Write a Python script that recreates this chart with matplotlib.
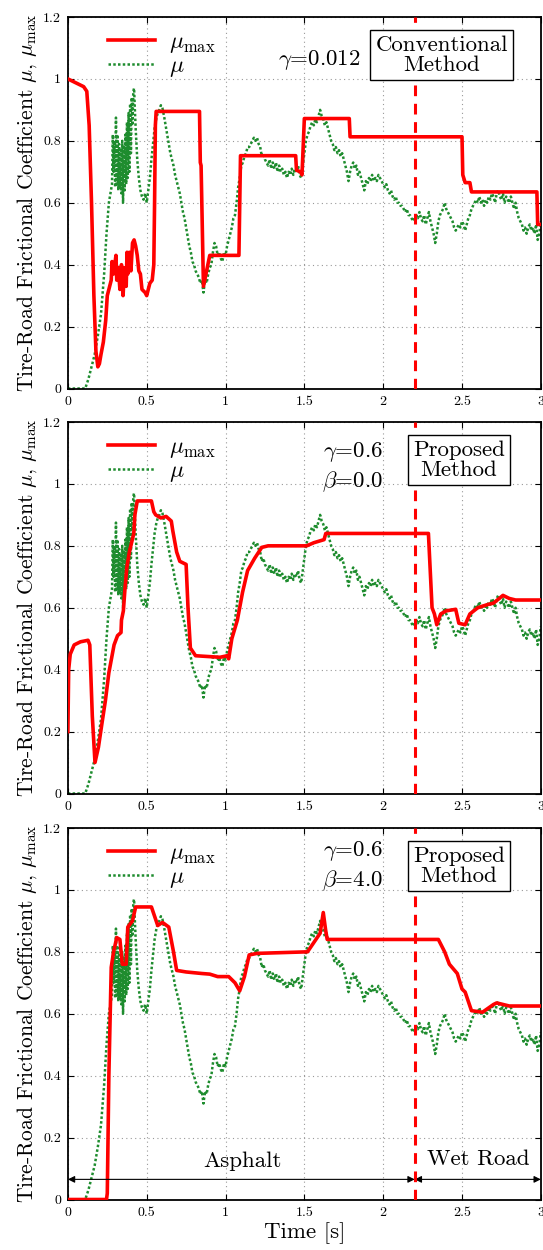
import matplotlib
matplotlib.use("Agg")
import matplotlib.pyplot as plt
from matplotlib.ticker import FuncFormatter

plt.rcParams["font.family"] = "serif"
plt.rcParams["font.serif"] = ["cmr10"]
plt.rcParams["mathtext.fontset"] = "cm"
plt.rcParams["axes.formatter.use_mathtext"] = True

# measured friction coefficient mu (same in all three panels)
mu_t = [0.00, 0.11, 0.13, 0.15, 0.17, 0.19, 0.21, 0.23, 0.245, 0.26, 0.27, 0.28,
        0.285, 0.29, 0.295, 0.30, 0.305, 0.31, 0.315, 0.32, 0.325, 0.33, 0.335, 0.34,
        0.345, 0.35, 0.355, 0.36, 0.365, 0.37, 0.375, 0.38, 0.385, 0.39, 0.395, 0.40,
        0.405, 0.41, 0.415, 0.42, 0.425, 0.43, 0.44, 0.45, 0.46, 0.47, 0.48, 0.49,
        0.50, 0.51, 0.52, 0.53, 0.54, 0.55, 0.56, 0.57, 0.58, 0.59, 0.60, 0.61,
        0.62, 0.63, 0.64, 0.65, 0.66, 0.67, 0.68, 0.69, 0.70, 0.71, 0.72, 0.73,
        0.74, 0.75, 0.76, 0.77, 0.78, 0.79, 0.80, 0.81, 0.82, 0.83, 0.84, 0.85,
        0.86, 0.87, 0.88, 0.89, 0.90, 0.91, 0.92, 0.93, 0.94, 0.95, 0.96, 0.97,
        0.98, 0.99, 1.00, 1.01, 1.02, 1.03, 1.04, 1.05, 1.06, 1.07, 1.08, 1.09,
        1.10, 1.11, 1.12, 1.13, 1.14, 1.15, 1.16, 1.17, 1.18, 1.19, 1.20, 1.21,
        1.22, 1.23, 1.24, 1.25, 1.26, 1.27, 1.28, 1.29, 1.30, 1.31, 1.32, 1.33,
        1.34, 1.35, 1.36, 1.37, 1.38, 1.39, 1.40, 1.41, 1.42, 1.43, 1.44, 1.45,
        1.46, 1.47, 1.48, 1.49, 1.50, 1.51, 1.52, 1.53, 1.54, 1.55, 1.56, 1.57,
        1.58, 1.59, 1.60, 1.61, 1.62, 1.63, 1.64, 1.65, 1.66, 1.67, 1.68, 1.69,
        1.70, 1.71, 1.72, 1.73, 1.74, 1.75, 1.76, 1.77, 1.78, 1.79, 1.80, 1.81,
        1.82, 1.83, 1.84, 1.85, 1.86, 1.87, 1.88, 1.89, 1.90, 1.91, 1.92, 1.93,
        1.94, 1.95, 1.96, 1.97, 1.98, 1.99, 2.00, 2.01, 2.02, 2.03, 2.04, 2.05,
        2.06, 2.07, 2.08, 2.09, 2.10, 2.11, 2.12, 2.13, 2.14, 2.15, 2.16, 2.17,
        2.18, 2.19, 2.20, 2.21, 2.22, 2.23, 2.24, 2.25, 2.26, 2.27, 2.28, 2.29,
        2.30, 2.31, 2.32, 2.33, 2.34, 2.35, 2.36, 2.37, 2.38, 2.39, 2.40, 2.41,
        2.42, 2.43, 2.44, 2.45, 2.46, 2.47, 2.48, 2.49, 2.50, 2.51, 2.52, 2.53,
        2.54, 2.55, 2.56, 2.57, 2.58, 2.59, 2.60, 2.61, 2.62, 2.63, 2.64, 2.65,
        2.66, 2.67, 2.68, 2.69, 2.70, 2.71, 2.72, 2.73, 2.74, 2.75, 2.76, 2.77,
        2.78, 2.79, 2.80, 2.81, 2.82, 2.83, 2.84, 2.85, 2.86, 2.87, 2.88, 2.89,
        2.90, 2.91, 2.92, 2.93, 2.94, 2.95, 2.96, 2.97, 2.98, 2.99, 3.00]
mu_v = [0.0, 0.0, 0.03, 0.07, 0.11, 0.17, 0.24, 0.37, 0.5, 0.6, 0.63, 0.66,
        0.82, 0.7, 0.8, 0.65, 0.875, 0.66, 0.82, 0.64, 0.79, 0.65, 0.77, 0.63,
        0.8, 0.6, 0.78, 0.64, 0.82, 0.66, 0.86, 0.68, 0.89, 0.7, 0.92, 0.76,
        0.94, 0.85, 0.96, 0.97, 0.9, 0.84, 0.74, 0.68, 0.64, 0.62, 0.61, 0.63,
        0.6, 0.64, 0.68, 0.74, 0.79, 0.84, 0.87, 0.89, 0.9, 0.915, 0.905, 0.88,
        0.85, 0.82, 0.79, 0.76, 0.74, 0.72, 0.69, 0.67, 0.65, 0.63, 0.6, 0.57,
        0.55, 0.52, 0.49, 0.46, 0.44, 0.41, 0.4, 0.38, 0.37, 0.36, 0.34, 0.35,
        0.31, 0.35, 0.34, 0.37, 0.39, 0.4, 0.44, 0.47, 0.46, 0.43, 0.44, 0.42,
        0.41, 0.44, 0.43, 0.46, 0.48, 0.5, 0.52, 0.55, 0.56, 0.6, 0.65, 0.68,
        0.72, 0.73, 0.75, 0.76, 0.78, 0.78, 0.79, 0.8, 0.81, 0.8, 0.81, 0.79,
        0.78, 0.75, 0.76, 0.74, 0.73, 0.72, 0.74, 0.71, 0.73, 0.71, 0.73, 0.7,
        0.72, 0.7, 0.71, 0.69, 0.7, 0.68, 0.7, 0.69, 0.71, 0.69, 0.71, 0.7,
        0.72, 0.69, 0.68, 0.72, 0.76, 0.8, 0.82, 0.83, 0.85, 0.86, 0.85, 0.87,
        0.86, 0.88, 0.9, 0.88, 0.87, 0.85, 0.86, 0.84, 0.82, 0.8, 0.79, 0.77,
        0.78, 0.76, 0.77, 0.75, 0.76, 0.74, 0.72, 0.7, 0.67, 0.7, 0.72, 0.73,
        0.71, 0.72, 0.69, 0.7, 0.68, 0.66, 0.64, 0.67, 0.66, 0.68, 0.67, 0.69,
        0.67, 0.68, 0.67, 0.69, 0.68, 0.67, 0.66, 0.65, 0.66, 0.64, 0.63, 0.64,
        0.62, 0.61, 0.62, 0.6, 0.6, 0.59, 0.59, 0.58, 0.57, 0.58, 0.56, 0.56,
        0.55, 0.54, 0.55, 0.56, 0.55, 0.57, 0.55, 0.54, 0.56, 0.53, 0.55, 0.57,
        0.54, 0.52, 0.5, 0.47, 0.5, 0.54, 0.56, 0.57, 0.58, 0.6, 0.58, 0.57,
        0.56, 0.55, 0.54, 0.52, 0.51, 0.52, 0.53, 0.52, 0.54, 0.53, 0.51, 0.53,
        0.55, 0.56, 0.58, 0.59, 0.6, 0.61, 0.6, 0.62, 0.6, 0.61, 0.59, 0.61,
        0.6, 0.62, 0.61, 0.63, 0.62, 0.6, 0.63, 0.64, 0.62, 0.61, 0.63, 0.6,
        0.62, 0.61, 0.6, 0.62, 0.6, 0.58, 0.6, 0.57, 0.55, 0.54, 0.53, 0.51,
        0.52, 0.5, 0.52, 0.53, 0.51, 0.52, 0.5, 0.53, 0.48, 0.5, 0.54]

# estimated mu_max, conventional method (gamma=0.012)
conv_t = [0.0, 0.10, 0.12, 0.135, 0.15, 0.165, 0.178, 0.19, 0.20, 0.21, 0.225, 0.24,
          0.25, 0.265, 0.275, 0.28, 0.29, 0.30, 0.305, 0.31, 0.32, 0.33, 0.34, 0.35,
          0.36, 0.37, 0.375, 0.38, 0.39, 0.40, 0.41, 0.42, 0.43, 0.44, 0.45, 0.46,
          0.47, 0.49, 0.50, 0.51, 0.52, 0.535, 0.545, 0.55, 0.555, 0.56, 0.835, 0.84,
          0.845, 0.86, 0.90, 1.085, 1.095, 1.445, 1.45, 1.475, 1.485, 1.49, 1.50, 1.785,
          1.79, 2.50, 2.505, 2.52, 2.55, 2.56, 2.975, 2.98, 3.0]
conv_v = [1.0, 0.975, 0.96, 0.85, 0.6, 0.3, 0.12, 0.07, 0.08, 0.11, 0.15, 0.22,
          0.3, 0.33, 0.35, 0.41, 0.37, 0.41, 0.43, 0.35, 0.39, 0.32, 0.4, 0.3,
          0.39, 0.33, 0.44, 0.37, 0.44, 0.38, 0.47, 0.48, 0.46, 0.43, 0.38, 0.37,
          0.32, 0.31, 0.3, 0.32, 0.34, 0.35, 0.4, 0.6, 0.85, 0.895, 0.895, 0.73,
          0.72, 0.33, 0.43, 0.43, 0.752, 0.752, 0.705, 0.70, 0.69, 0.75, 0.872, 0.872,
          0.813, 0.813, 0.69, 0.665, 0.665, 0.635, 0.635, 0.53, 0.53]

# proposed method, gamma=0.6, beta=0.0
p0_t = [0.0, 0.005, 0.015, 0.04, 0.08, 0.128, 0.139, 0.155, 0.172, 0.194, 0.216, 0.238,
        0.26, 0.293, 0.315, 0.337, 0.34, 0.352, 0.362, 0.374, 0.39, 0.418, 0.425, 0.44,
        0.53, 0.545, 0.557, 0.59, 0.623, 0.656, 0.665, 0.69, 0.71, 0.75, 0.762, 0.777,
        0.81, 0.965, 1.01, 1.02, 1.04, 1.075, 1.108, 1.14, 1.185, 1.23, 1.27, 1.515,
        1.56, 1.625, 1.636, 2.287, 2.31, 2.325, 2.34, 2.365, 2.40, 2.46, 2.48, 2.52,
        2.55, 2.60, 2.66, 2.70, 2.76, 2.80, 2.84, 3.0]
p0_v = [0.2, 0.4, 0.45, 0.48, 0.49, 0.495, 0.48, 0.25, 0.1, 0.15, 0.226, 0.3,
        0.39, 0.48, 0.51, 0.52, 0.56, 0.59, 0.66, 0.73, 0.78, 0.84, 0.9, 0.945,
        0.945, 0.91, 0.9, 0.89, 0.895, 0.88, 0.85, 0.78, 0.75, 0.74, 0.6, 0.47,
        0.445, 0.44, 0.445, 0.435, 0.5, 0.56, 0.65, 0.72, 0.76, 0.795, 0.8, 0.8,
        0.81, 0.82, 0.84, 0.84, 0.6, 0.58, 0.545, 0.58, 0.59, 0.595, 0.55, 0.545,
        0.58, 0.6, 0.61, 0.615, 0.64, 0.63, 0.625, 0.625]

# proposed method, gamma=0.6, beta=4.0
p4_t = [0.0, 0.245, 0.25, 0.26, 0.275, 0.29, 0.31, 0.33, 0.345, 0.37, 0.38, 0.41,
        0.43, 0.53, 0.57, 0.60, 0.64, 0.67, 0.69, 0.75, 0.85, 0.90, 0.95, 1.02,
        1.06, 1.09, 1.12, 1.15, 1.20, 1.52, 1.56, 1.60, 1.62, 1.635, 1.645, 2.35,
        2.39, 2.42, 2.47, 2.50, 2.52, 2.56, 2.63, 2.70, 2.72, 2.80, 3.0]
p4_v = [0.0, 0.0, 0.02, 0.4, 0.75, 0.8, 0.846, 0.84, 0.76, 0.76, 0.88, 0.9,
        0.945, 0.945, 0.885, 0.895, 0.88, 0.8, 0.74, 0.735, 0.73, 0.728, 0.72, 0.72,
        0.7, 0.674, 0.72, 0.79, 0.795, 0.8, 0.83, 0.86, 0.927, 0.87, 0.84, 0.84,
        0.8, 0.76, 0.73, 0.68, 0.67, 0.61, 0.605, 0.63, 0.635, 0.625, 0.625]

switch_time = 2.2
panels = [
    (conv_t, conv_v, [r"$\gamma$=0.012"], "Conventional\nMethod"),
    (p0_t, p0_v, [r"$\gamma$=0.6", r"$\beta$=0.0"], "Proposed\nMethod"),
    (p4_t, p4_v, [r"$\gamma$=0.6", r"$\beta$=4.0"], "Proposed\nMethod"),
]

RED = "#ff0000"
GREEN = "#1e8c2e"

fig = plt.figure(figsize=(5.43, 12.5), dpi=100)
tops = [0.9864, 0.6624, 0.3376]
height = 0.2972
fmt = FuncFormatter(lambda v, p: "%g" % v)

for i, (rt, rv, params, method) in enumerate(panels):
    ax = fig.add_axes([0.125, tops[i] - height, 0.871, height])
    ax.plot(rt, rv, color=RED, lw=2.6, label=r"$\mu_{\rm max}$", zorder=3)
    ax.plot(mu_t, mu_v, color=GREEN, lw=1.8, ls=(0, (1, 0.9)), label=r"$\mu$", zorder=2)
    ax.axvline(switch_time, color=RED, lw=2.2, ls=(0, (3.5, 2.5)), zorder=4)

    ax.set_xlim(0, 3)
    ax.set_ylim(0, 1.2)
    ax.set_xticks([0, 0.5, 1, 1.5, 2, 2.5, 3])
    ax.set_yticks([0, 0.2, 0.4, 0.6, 0.8, 1.0, 1.2])
    ax.xaxis.set_major_formatter(fmt)
    ax.yaxis.set_major_formatter(fmt)
    ax.tick_params(direction="in", top=True, right=True, labelsize=10, length=4, pad=5)
    ax.grid(True, color="#999999", ls=(0, (1, 3)), lw=0.8)
    for s in ax.spines.values():
        s.set_linewidth(1.3)

    ax.set_ylabel(r"Tire-Road Frictional Coefficient $\mu$, $\mu_{\rm max}$", fontsize=15.5, labelpad=3)
    ax.legend(loc="upper left", bbox_to_anchor=(0.04, 1.02), frameon=False, fontsize=17,
              handlelength=2.0, handletextpad=0.6, labelspacing=0.0)

    if len(params) == 1:
        ax.text(1.86, 1.06, params[0], ha="right", va="center", fontsize=16.5)
    else:
        y0 = 1.103 if i == 1 else 1.126
        ax.text(2.0, y0, params[0], ha="right", va="center", fontsize=16.5)
        ax.text(2.0, y0 - 0.095, params[1], ha="right", va="center", fontsize=16.5)

    bx = 2.37 if i == 0 else 2.48
    ax.text(bx, 1.077, method, ha="center", va="center", fontsize=16.5, linespacing=1.05,
            bbox=dict(boxstyle="square,pad=0.22", fc="white", ec="black", lw=1.0), zorder=5)

    if i == 2:
        ax.set_xlabel("Time [s]", fontsize=16.5, labelpad=3)
        arr = dict(arrowstyle="<|-|>", color="black", lw=0.8, mutation_scale=10,
                   shrinkA=0, shrinkB=0)
        ax.annotate("", xy=(0.0, 0.065), xytext=(switch_time, 0.065), arrowprops=arr)
        ax.annotate("", xy=(switch_time, 0.065), xytext=(3.0, 0.065), arrowprops=arr)
        ax.text(1.11, 0.125, "Asphalt", ha="center", va="center", fontsize=16.5)
        ax.text(2.6, 0.13, "Wet Road", ha="center", va="center", fontsize=16.5)

fig.savefig("out.png", dpi=100)
